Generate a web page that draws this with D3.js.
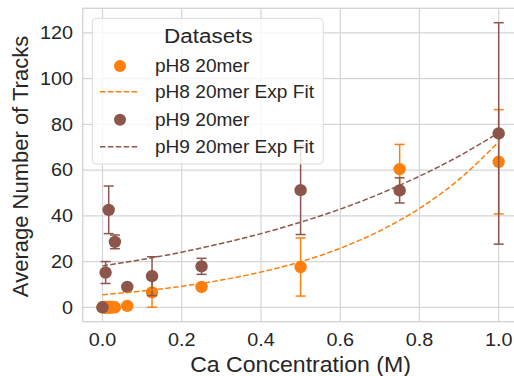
<!DOCTYPE html>
<html>
<head>
<meta charset="utf-8">
<script src="https://cdn.jsdelivr.net/npm/d3@7"></script>
<style>
  body { margin: 0; background: #fff; }
  text { font-family: "Liberation Sans", Arial, sans-serif; fill: #262626; }
</style>
</head>
<body>
<div class="chart"></div>
<script>
// values
var concentration = [0, 0.0078, 0.0156, 0.03125, 0.0625, 0.125, 0.25, 0.5, 0.75, 1.0];

var tracksPH8 = [0, 0, 0, 0, 0.6, 6.5, 8.9, 17.6, 60.4, 63.6];
var errPH8    = [0, 0, 2.5, 1.0, 0.8, 6.5, 1.0, 12.7, 10.8, 22.8];

var tracksPH9 = [0, 15.2, 42.6, 28.6, 8.9, 13.6, 17.9, 51.2, 51.1, 76.0];
var errPH9    = [0, 4.8, 10.4, 3.0, 0, 8.5, 3.5, 19.4, 5.5, 48.4];

// exponential fit curves
var fitX     = [0, 0.1, 0.2, 0.3, 0.4, 0.5, 0.6, 0.7, 0.8, 0.9, 1.0];
var fitPH8   = [5.5, 7.1, 9.2, 11.9, 15.4, 19.9, 25.8, 33.4, 43.2, 55.9, 72.3];
var fitPH9   = [18.1, 20.9, 24.1, 27.9, 32.2, 37.2, 42.9, 49.6, 57.3, 66.1, 76.3];

var xTicks = [0, 0.2, 0.4, 0.6, 0.8, 1.0];
var yTicks = [0, 20, 40, 60, 80, 100, 120];

var legendLabels = ["pH8 20mer", "pH8 20mer Exp Fit", "pH9 20mer", "pH9 20mer Exp Fit"];

var orange = "#ff7f0e";
var brown = "#8c564b";
var gridColor = "#d5d5d5";

var width = 514, height = 376;
var margin = {top: 8.3, right: -4.5, bottom: 54.3, left: 82.7};

var svg = d3.select(".chart").append("svg")
    .attr("width", width)
    .attr("height", height)
    .style("display", "block");

var x = d3.scaleLinear()
    .domain([-0.05, 1.05])
    .range([margin.left, width - margin.right]);

var y = d3.scaleLinear()
    .domain([-6.3, 130.7])
    .range([height - margin.bottom, margin.top]);

// the reference text is a little wider than plain Liberation Sans
function place(px, py, sx) {
  return "translate(" + px + "," + py + ") scale(" + sx + ",1)";
}

// grid
svg.append("g").selectAll("line")
    .data(xTicks)
    .enter().append("line")
    .attr("x1", function(d) { return x(d); })
    .attr("x2", function(d) { return x(d); })
    .attr("y1", y.range()[0])
    .attr("y2", y.range()[1])
    .attr("stroke", gridColor)
    .attr("stroke-width", 1.2);

svg.append("g").selectAll("line")
    .data(yTicks)
    .enter().append("line")
    .attr("x1", x.range()[0])
    .attr("x2", x.range()[1])
    .attr("y1", function(d) { return y(d); })
    .attr("y2", function(d) { return y(d); })
    .attr("stroke", gridColor)
    .attr("stroke-width", 1.2);

// frame
svg.append("rect")
    .attr("x", x.range()[0])
    .attr("y", y.range()[1])
    .attr("width", x.range()[1] - x.range()[0])
    .attr("height", y.range()[0] - y.range()[1])
    .attr("fill", "none")
    .attr("stroke", gridColor)
    .attr("stroke-width", 1.4);

// tick labels
svg.append("g").selectAll("text")
    .data(xTicks)
    .enter().append("text")
    .attr("transform", function(d) { return place(x(d), 345.7, 1.1); })
    .attr("text-anchor", "middle")
    .style("font-size", "18px")
    .text(function(d) { return d3.format(".1f")(d); });

svg.append("g").selectAll("text")
    .data(yTicks)
    .enter().append("text")
    .attr("transform", function(d) { return place(73, y(d), 1.1); })
    .attr("dy", "0.35em")
    .attr("text-anchor", "end")
    .style("font-size", "18px")
    .text(function(d) { return d; });

// axis labels
svg.append("text")
    .attr("transform", place(300.5, 371.5, 1.05))
    .attr("text-anchor", "middle")
    .style("font-size", "22px")
    .text("Ca Concentration (M)");

svg.append("text")
    .attr("transform", "translate(27.5," + 166.5 + ") rotate(-90)")
    .attr("text-anchor", "middle")
    .style("font-size", "22px")
    .text("Average Number of Tracks");

function errorBars(vals, errs, color) {
  var g = svg.append("g")
      .attr("stroke", color)
      .attr("stroke-width", 1.5);
  var rows = concentration.map(function(c, i) { return {c: c, v: vals[i], e: errs[i]}; })
      .filter(function(d) { return d.e > 0; });
  g.selectAll(".bar").data(rows).enter().append("line")
      .attr("x1", function(d) { return x(d.c); })
      .attr("x2", function(d) { return x(d.c); })
      .attr("y1", function(d) { return y(d.v - d.e); })
      .attr("y2", function(d) { return y(d.v + d.e); });
  [-1, 1].forEach(function(s) {
    g.selectAll(".cap" + s).data(rows).enter().append("line")
        .attr("x1", function(d) { return x(d.c) - 5; })
        .attr("x2", function(d) { return x(d.c) + 5; })
        .attr("y1", function(d) { return y(d.v + s * d.e); })
        .attr("y2", function(d) { return y(d.v + s * d.e); });
  });
}

function points(vals, color) {
  svg.append("g").selectAll("circle")
      .data(concentration)
      .enter().append("circle")
      .attr("cx", function(d) { return x(d); })
      .attr("cy", function(d, i) { return y(vals[i]); })
      .attr("r", 6.2)
      .attr("fill", color);
}

errorBars(tracksPH8, errPH8, orange);
points(tracksPH8, orange);
errorBars(tracksPH9, errPH9, brown);
points(tracksPH9, brown);

var fitLine = d3.line()
    .curve(d3.curveMonotoneX)
    .x(function(d, i) { return x(fitX[i]); })
    .y(function(d) { return y(d); });

svg.append("path")
    .attr("d", fitLine(fitPH8))
    .attr("fill", "none")
    .attr("stroke", orange)
    .attr("stroke-width", 1.5)
    .attr("stroke-dasharray", "5.5,2.4");

svg.append("path")
    .attr("d", fitLine(fitPH9))
    .attr("fill", "none")
    .attr("stroke", brown)
    .attr("stroke-width", 1.5)
    .attr("stroke-dasharray", "5.5,2.4");

// legend
var legend = svg.append("g");

legend.append("rect")
    .attr("x", 92.3)
    .attr("y", 18.3)
    .attr("width", 231)
    .attr("height", 145.7)
    .attr("rx", 4)
    .attr("fill", "#fff")
    .attr("fill-opacity", 0.8)
    .attr("stroke", "#dcdcdc")
    .attr("stroke-width", 1);

legend.append("text")
    .attr("transform", place(208.3, 42.5, 1.07))
    .attr("text-anchor", "middle")
    .style("font-size", "21px")
    .text("Datasets");

var rowY = [66, 91.7, 119.7, 146.7];
var rowColor = [orange, orange, brown, brown];

legendLabels.forEach(function(label, i) {
  if (i % 2 == 0) {
    legend.append("circle")
        .attr("cx", 120)
        .attr("cy", rowY[i])
        .attr("r", 6)
        .attr("fill", rowColor[i]);
  } else {
    legend.append("line")
        .attr("x1", 100)
        .attr("x2", 138.5)
        .attr("y1", rowY[i])
        .attr("y2", rowY[i])
        .attr("stroke", rowColor[i])
        .attr("stroke-width", 1.5)
        .attr("stroke-dasharray", "5.5,2.4");
  }
  legend.append("text")
      .attr("transform", place(155, rowY[i], 1.09))
      .attr("dy", "0.36em")
      .style("font-size", "17.5px")
      .text(label);
});
</script>
</body>
</html>
